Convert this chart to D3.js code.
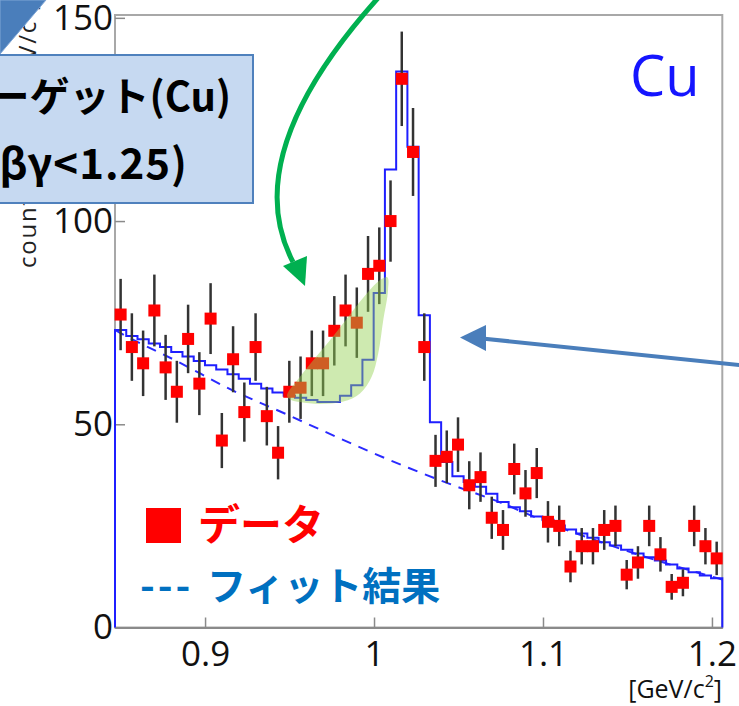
<!DOCTYPE html>
<html>
<head>
<meta charset="utf-8">
<script src="https://cdn.jsdelivr.net/npm/d3@7"></script>
<style>
body { margin: 0; background: #fff; }
svg { display: block; }
</style>
</head>
<body>
<svg width="739" height="706"></svg>
<script>
// histogram binning (GeV/c^2)
var binLo = 0.8467, binWidth = 0.006656;
// measured counts per bin
var counts = [77, 69, 65, 78, 64, 58, 71, 60, 76, 46,
              66, 53, 69, 52, 43, 58, 59, 65, 65, 73,
              78, 75, 87, 89, 100, 135, 117, 69, 41, 42,
              45, 35, 37, 27, 24, 39, 33, 38, 26, 25,
              15, 20, 20, 24, 25, 13, 16, 25, 18, 10,
              11, 25, 20, 17];
// fit result per bin (solid step line)
var fitCounts = [73.2, 71.7, 70.9, 69.9, 69.0, 67.8, 66.7, 65.6, 64.5, 63.5,
                 62.3, 61.2, 60.0, 58.8, 57.8, 57.0, 56.5, 56.0, 55.5, 55.5,
                 57.0, 59.6, 65.9, 82.3, 112.7, 136.8, 118.3, 76.8, 50.5, 40.7,
                 37.2, 35.8, 34.6, 32.9, 30.9, 29.6, 28.6, 27.3, 26.5, 25.1,
                 24.1, 23.1, 22.1, 21.0, 20.2, 19.1, 18.2, 17.3, 16.5, 15.5,
                 14.5, 13.6, 12.8, 12.1];
// background part of the fit (dashed)
var bkgX = [0.8467, 0.8497, 0.8844, 0.916, 0.9475, 0.9692, 1.0203, 1.0469, 1.0763, 1.1, 1.15, 1.2061];
var bkgY = [73.2, 72.5, 65.3, 58.4, 52.6, 48.5, 39.3, 35.0, 30.5, 26.3, 18.8, 11.8];
// shaded excess region
var blobX = [0.9485, 0.9562, 0.9757, 0.9957, 1.0036, 1.0079, 1.0083, 1.0055, 1.0025, 0.9986, 0.9917, 0.9818, 0.9680, 0.9562, 0.9509];
var blobY = [57.0, 61.7, 71.6, 82.2, 85.5, 86.2, 83.0, 75.7, 67.5, 61.7, 57.6, 55.6, 55.0, 55.5, 56.0];

var xTicks = [0.9, 1, 1.1, 1.2];
var xTickLabels = ["0.9", "1", "1.1", "1.2"];
var yTicks = [0, 50, 100, 150];

var svg = d3.select('svg');
var plotL = 115, plotR = 722.3, plotT = 15, plotB = 627.5;

var x = d3.scaleLinear()
          .domain([binLo, binLo + binWidth * counts.length])
          .range([plotL, plotR]);
var y = d3.scaleLinear()
          .domain([0, 150.7])
          .range([plotB, plotT]);

// y axis title (mostly hidden behind the box)
svg.append('text')
   .attr('transform', 'translate(36,268) rotate(-90)')
   .attr('font-family', 'Open Sans')
   .attr('font-size', 24)
   .attr('fill', '#222')
   .attr('textLength', 266)
   .attr('lengthAdjust', 'spacing')
   .text('counts / [6.6 MeV/c²]');

// frame
svg.append('rect')
   .attr('x', plotL).attr('y', plotT)
   .attr('width', plotR - plotL).attr('height', plotB - plotT)
   .attr('fill', 'none')
   .attr('stroke', '#a8a8a8')
   .attr('stroke-width', 2);

// axes
var xAxis = d3.axisBottom(x)
              .tickValues(xTicks)
              .tickFormat(function(d, i){ return xTickLabels[i]; })
              .tickSizeInner(-10).tickSizeOuter(0).tickPadding(14);
var gx = svg.append('g').attr('transform', 'translate(0,' + plotB + ')').call(xAxis);
gx.select('.domain').attr('stroke', '#8a8a8a').attr('stroke-width', 2);

var yAxis = d3.axisLeft(y)
              .tickValues(yTicks)
              .tickSizeInner(-10).tickSizeOuter(0).tickPadding(2);
var gy = svg.append('g').attr('transform', 'translate(' + plotL + ',0)').call(yAxis);
gy.select('.domain').remove();

svg.selectAll('.tick line').attr('stroke', '#8a8a8a').attr('stroke-width', 1.5);
svg.selectAll('.tick text')
   .attr('font-family', 'Open Sans')
   .attr('font-size', 35)
   .attr('fill', '#111');

// x unit
var unit = svg.append('text')
   .attr('x', 722).attr('y', 698)
   .attr('text-anchor', 'end')
   .attr('font-family', 'Open Sans')
   .attr('font-size', 25)
   .attr('fill', '#111');
unit.append('tspan').text('[GeV/c');
unit.append('tspan').attr('font-size', 16).attr('dy', -11).text('2');
unit.append('tspan').attr('dy', 11).text(']');

// fit histogram (solid steps)
var stepPts = [[x(binLo), y(0)]];
fitCounts.forEach(function(v, i){
    stepPts.push([x(binLo + binWidth * i), y(v)]);
    stepPts.push([x(binLo + binWidth * (i + 1)), y(v)]);
});
stepPts.push([x(binLo + binWidth * fitCounts.length), y(0)]);

// background (dashed)
svg.append('path')
   .datum(bkgX.map(function(d, i){ return [d, bkgY[i]]; }))
   .attr('d', d3.line()
                .x(function(d){ return x(d[0]); })
                .y(function(d){ return y(d[1]); })
                .curve(d3.curveMonotoneX))
   .attr('fill', 'none')
   .attr('stroke', '#2a2aff')
   .attr('stroke-width', 2)
   .attr('stroke-dasharray', '10,8');

svg.append('path')
   .attr('d', d3.line()(stepPts))
   .attr('fill', 'none')
   .attr('stroke', '#1f1fff')
   .attr('stroke-width', 2);

// data: error bars and markers
var pts = svg.selectAll('g.pt')
             .data(counts)
             .enter()
             .append('g')
             .attr('class', 'pt');
pts.append('line')
   .attr('x1', function(d, i){ return x(binLo + binWidth * (i + 0.5)); })
   .attr('x2', function(d, i){ return x(binLo + binWidth * (i + 0.5)); })
   .attr('y1', function(d){ return y(d - Math.sqrt(d)); })
   .attr('y2', function(d){ return y(d + Math.sqrt(d)); })
   .attr('stroke', '#333')
   .attr('stroke-width', 2.5);
pts.append('rect')
   .attr('x', function(d, i){ return x(binLo + binWidth * (i + 0.5)) - 6; })
   .attr('y', function(d){ return y(d) - 6; })
   .attr('width', 12)
   .attr('height', 12)
   .attr('fill', '#ff0000');

// shaded excess
svg.append('path')
   .datum(blobX.map(function(d, i){ return [d, blobY[i]]; }))
   .attr('d', d3.line()
                .x(function(d){ return x(d[0]); })
                .y(function(d){ return y(d[1]); })
                .curve(d3.curveCatmullRomClosed))
   .attr('fill', '#92d050')
   .attr('fill-opacity', 0.45);

// "Cu"
svg.append('text')
   .attr('x', 630).attr('y', 96)
   .attr('font-family', 'Open Sans')
   .attr('font-size', 56)
   .attr('fill', '#1515ff')
   .text('Cu');

// legend
svg.append('rect')
   .attr('x', 146).attr('y', 508)
   .attr('width', 35).attr('height', 35)
   .attr('fill', '#ff0000');
svg.append('text')
   .attr('x', 198).attr('y', 540)
   .attr('font-family', 'Noto Sans CJK JP')
   .attr('font-weight', 'bold')
   .attr('font-size', 42)
   .attr('fill', '#ff0000')
   .text('データ');
svg.append('text')
   .attr('x', 140).attr('y', 600)
   .attr('font-family', 'Noto Sans CJK JP')
   .attr('font-weight', 'bold')
   .attr('font-size', 40)
   .attr('letter-spacing', 3)
   .attr('fill', '#0070c0')
   .text('---');
svg.append('text')
   .attr('x', 207).attr('y', 600)
   .attr('font-family', 'Noto Sans CJK JP')
   .attr('font-weight', 'bold')
   .attr('font-size', 39)
   .attr('fill', '#0070c0')
   .text('フィット結果');

// top-left triangle
svg.append('path')
   .attr('d', 'M0,0 L46,0 L0,54 Z')
   .attr('fill', '#4a7ebb')
   .attr('stroke', '#7fa6d6')
   .attr('stroke-width', 1);

// caption box
svg.append('rect')
   .attr('x', -10).attr('y', 55)
   .attr('width', 263).attr('height', 148)
   .attr('fill', '#c6d9f1')
   .attr('stroke', '#4f81bd')
   .attr('stroke-width', 2);
svg.append('text')
   .attr('x', 231).attr('y', 111)
   .attr('text-anchor', 'end')
   .attr('font-family', 'Noto Sans CJK JP')
   .attr('font-weight', 'bold')
   .attr('font-size', 40)
   .attr('fill', '#000')
   .text('ーゲット(Cu)');
svg.append('text')
   .attr('x', 188).attr('y', 179)
   .attr('text-anchor', 'end')
   .attr('font-family', 'Noto Sans CJK JP')
   .attr('font-weight', 'bold')
   .attr('font-size', 42)
   .attr('letter-spacing', 1)
   .attr('fill', '#000')
   .text('βγ<1.25)');

// green arrow
svg.append('path')
   .attr('d', 'M378,-2 C300,85 250,180 293,262')
   .attr('fill', 'none')
   .attr('stroke', '#00b050')
   .attr('stroke-width', 5);
svg.append('path')
   .attr('d', 'M305,286 L283,266 L307,256 Z')
   .attr('fill', '#00b050');

// blue arrow
svg.append('line')
   .attr('x1', 740).attr('y1', 365)
   .attr('x2', 482).attr('y2', 338.5)
   .attr('stroke', '#4a7ebb')
   .attr('stroke-width', 4);
svg.append('path')
   .attr('d', 'M460,337.5 L486,325 L486,351 Z')
   .attr('fill', '#4a7ebb');
</script>
</body>
</html>
